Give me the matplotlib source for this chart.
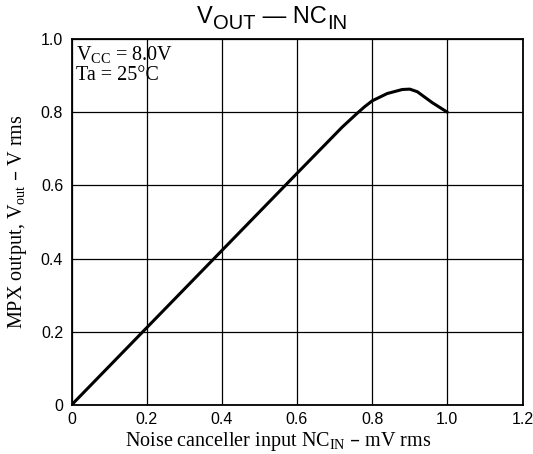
import matplotlib
matplotlib.use("Agg")
import matplotlib.pyplot as plt

nc_in = [0.0, 0.2, 0.4, 0.6, 0.7, 0.72, 0.76, 0.78, 0.8, 0.84, 0.88, 0.9, 0.92, 0.96, 1.0]
v_out = [0.0, 0.211, 0.422, 0.633, 0.738, 0.759, 0.797, 0.815, 0.831, 0.851, 0.862, 0.863, 0.856, 0.826, 0.80]
xticks = [0, 0.2, 0.4, 0.6, 0.8, 1.0, 1.2]
xticklabels = ["0", "0.2", "0.4", "0.6", "0.8", "1.0", "1.2"]
yticks = [0, 0.2, 0.4, 0.6, 0.8, 1.0]
yticklabels = ["0", "0.2", "0.4", "0.6", "0.8", "1.0"]

W, H = 533, 454
fig = plt.figure(figsize=(W / 100, H / 100), dpi=100)
L, R, T, B = 71.5, 522.5, 39, 405
ax = fig.add_axes([L / W, 1 - B / H, (R - L) / W, (B - T) / H])
ax.plot(nc_in, v_out, color="black", lw=2.2, solid_capstyle="round",
        solid_joinstyle="round")
ax.set_xlim(0, 1.2)
ax.set_ylim(0, 1.0)
ax.set_xticks(xticks)
ax.set_xticklabels(xticklabels, family="Liberation Sans", fontsize=11.5)
ax.set_yticks(yticks)
ax.set_yticklabels(yticklabels, family="Liberation Sans", fontsize=11.5)
ax.tick_params(length=0)
ax.tick_params(axis="x", pad=5)
ax.tick_params(axis="y", pad=6)
ax.grid(True, color="black", lw=0.9)
for s in ax.spines.values():
    s.set_linewidth(1.3)

serif = "Liberation Serif"
sans = "Liberation Sans"

# x label
fig.text(278 / W, 1 - 446 / H,
         r"Noise canceller input NC$_{\mathregular{IN}}$ – mV rms",
         family=serif, fontsize=14.5, ha="center", va="baseline")
# y label
fig.text(18 / W, 1 - 222 / H, r"MPX output, V$_{\mathregular{out}}$ – V rms",
         family=serif, fontsize=14.5, ha="center", va="center", rotation=90)

# title with large subscripts
t1 = fig.text(197 / W, 1 - 23 / H, "V", family=sans, fontsize=17,
              ha="left", va="baseline")
a2 = fig.add_artist(plt.Annotation("OUT", xy=(1, 0), xycoords=t1,
                                   xytext=(0.5, -3.5), textcoords="offset points",
                                   family=sans, fontsize=14.5, ha="left", va="bottom"))
a3 = fig.add_artist(plt.Annotation(" — NC", xy=(1, 0), xycoords=a2,
                                   xytext=(0, 3.5), textcoords="offset points",
                                   family=sans, fontsize=17, ha="left", va="bottom"))
a4 = fig.add_artist(plt.Annotation("IN", xy=(1, 0), xycoords=a3,
                                   xytext=(0.5, -3.5), textcoords="offset points",
                                   family=sans, fontsize=14.5, ha="left", va="bottom"))

# conditions
fig.text(76 / W, 1 - 45 / H, r"V$_{\mathregular{CC}}$ = 8.0V",
         family=serif, fontsize=14.5, ha="left", va="top")
fig.text(76 / W, 1 - 66 / H, "Ta = 25°C",
         family=serif, fontsize=14.5, ha="left", va="top")
fig.savefig("out.png", dpi=100)
